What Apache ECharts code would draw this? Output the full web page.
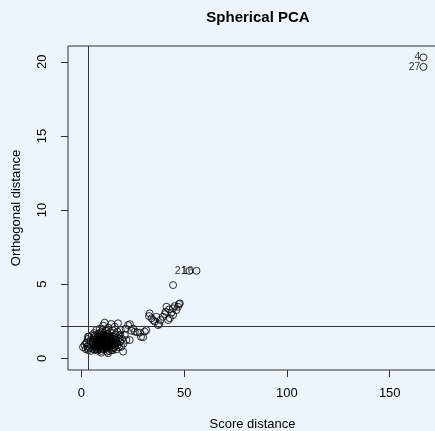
<!DOCTYPE html>
<html>
<head>
<meta charset="utf-8">
<script src="https://cdn.jsdelivr.net/npm/echarts@6/dist/echarts.min.js"></script>
<style>
  html, body { margin: 0; padding: 0; background: #EBF5FB; }
  #chart { width: 435px; height: 431px; }
</style>
</head>
<body>
<div id="chart"></div>
<script>
// Diagnostic plot of a spherical PCA: score distance vs orthogonal distance.

// Regular observations near the origin: [score distance, orthogonal distance]
const coreCluster = [
  [0.8,0.75],[1.5,0.9],[2.1,0.62],[2.4,1.05],[2.9,0.8],[3.1,1.3],[3.3,0.55],[3.6,1.45],[3.9,0.95],[4.2,0.7],
  [4.4,1.2],[4.7,0.5],[4.9,1.55],[5.1,0.88],[5.3,1.1],[5.6,0.65],[5.8,1.35],[6.0,0.95],[6.2,1.7],[6.4,0.58],
  [6.5,1.25],[6.7,0.8],[6.9,1.05],[7.0,1.5],[7.2,0.7],[7.3,1.9],[7.5,0.95],[7.6,1.2],[7.8,0.52],[7.9,1.4],
  [8.0,0.85],[8.2,1.65],[8.3,1.0],[8.5,0.62],[8.6,1.3],[8.8,0.9],[8.9,1.15],[9.0,2.0],[9.1,0.75],[9.3,1.45],
  [9.4,1.05],[9.6,0.5],[9.7,1.25],[9.8,0.88],[10.0,1.75],[10.1,1.1],[10.2,0.68],[10.4,1.35],[10.5,0.95],[10.6,2.2],
  [10.8,1.2],[10.9,0.8],[11.0,1.55],[11.2,1.0],[11.3,2.4],[11.4,0.6],[11.5,1.3],[11.7,0.9],[11.8,1.85],[11.9,1.1],
  [12.0,0.72],[12.2,1.45],[12.3,1.0],[12.5,0.45],[12.6,1.25],[12.7,1.65],[12.9,0.85],[13.0,0.34],[13.1,1.1],[13.2,2.05],
  [13.4,1.4],[13.5,0.65],[13.7,0.95],[13.8,1.2],[14.0,1.75],[14.1,0.8],[14.3,1.5],[14.4,1.05],[14.6,2.31],[14.7,0.55],
  [14.9,1.3],[15.0,0.9],[15.2,1.9],[15.4,1.1],[15.6,0.7],[15.8,1.45],[16.0,1.0],[16.2,2.13],[16.3,0.85],[16.5,1.6],
  [16.8,1.25],[17.0,0.6],[17.2,1.05],[17.5,1.8],[17.7,0.9],[17.8,2.36],[18.0,1.35],[18.3,0.75],[18.5,1.55],[18.8,1.1],
  [19.2,1.9],[19.5,0.78],[19.8,1.3],[20.3,0.45],[20.5,1.0],[21.1,1.57],[21.5,2.0],[21.9,1.23],[22.7,2.24],[23.5,1.23],
  [6.5,1.57],[3.2,1.46],[2.4,1.0],[3.2,0.67],[9.7,0.38],[7.4,1.1],[8.1,1.2],[8.7,0.7],[9.2,0.95],[9.9,1.4],
  [10.3,0.85],[10.7,1.05],[11.1,1.25],[11.6,0.75],[12.1,1.15],[12.4,0.9],[12.8,1.3],[13.3,0.8],[13.6,1.05],[14.2,0.95],
  [14.5,1.2],[15.1,1.05],[15.5,1.3],[16.1,0.75],[16.6,1.05],[6.8,1.3],[7.7,0.8],[8.4,1.45],[9.5,1.15],[10.9,1.45],
  [11.9,1.55],[5.5,1.05],[6.3,0.85],[13.9,1.45],[12.5,1.85],[10.2,1.9],[8.8,1.7],[7.1,0.6],[8.5,1.05],[9.9,0.62],
  [10.6,1.6],[11.4,0.82],[12.9,1.5],[13.5,0.5],[15.3,0.55],[17.4,1.4],[18.9,1.6]
];

// Observations trailing away from the main group
const trailPoints = [
  [23.6,2.3],[24.3,1.86],[25.2,2.0],[26.0,1.8],[27.2,1.75],[28.4,1.73],[29.0,1.45],[30.0,1.42],[30.8,1.8],[31.6,1.9]
];

// Second group with larger score distances
const upperCluster = [
  [33.2,3.03],[32.9,2.85],[34.1,2.7],[34.9,2.58],[35.7,2.47],[37.3,2.24],[37.8,2.31],[39.7,2.8],[40.6,2.98],[41.4,3.48],
  [42.7,3.3],[43.8,3.07],[44.6,3.37],[45.4,3.52],[47.5,3.66],[46.2,3.25],[43.0,2.7],[42.2,2.58],[44.6,2.92],[36.5,2.8],
  [38.5,2.58],[41.0,3.14],[47.0,3.48],[47.9,3.7],[44.6,4.94]
];

// Flagged observations with their ids
const flaggedIds   = ['4', '27', '21', '16'];
const flaggedScore = [166.4, 166.4, 52.6, 56.0];
const flaggedOrth  = [20.3, 19.66, 5.9, 5.9];

// Cutoff values
const cutoffScore = 3.55;
const cutoffOrth = 2.18;

// Axis ticks
const xTicks = [0, 50, 100, 150];
const yTicks = [0, 5, 10, 15, 20];

const FONT = '"Liberation Sans", Arial, Helvetica, sans-serif';
const axisText = { fontFamily: FONT, fontSize: 13, color: '#000' };

const ring = {
  color: 'transparent',
  borderColor: '#000',
  borderWidth: 1
};

const chart = echarts.init(document.getElementById('chart'), null, { renderer: 'canvas' });

chart.setOption({
  backgroundColor: '#EBF5FB',
  animation: false,
  title: {
    text: 'Spherical PCA',
    left: 253,
    top: 5,
    textAlign: 'center',
    textStyle: { fontFamily: FONT, fontSize: 15, fontWeight: 'bold', color: '#000' }
  },
  grid: {
    left: 68, top: 46, width: 369, height: 324,
    show: true, borderColor: '#333', borderWidth: 1, backgroundColor: 'transparent',
    containLabel: false, outerBoundsMode: 'none'
  },
  xAxis: {
    type: 'value',
    min: -6.52, max: 173,
    name: 'Score distance',
    nameLocation: 'middle',
    nameGap: 48,
    nameTextStyle: axisText,
    axisLine: { show: false, onZero: false },
    axisTick: { show: true, inside: false, length: 7, customValues: xTicks, lineStyle: { color: '#333', width: 1 } },
    axisLabel: Object.assign({ customValues: xTicks, margin: 17 }, axisText),
    splitLine: { show: false }
  },
  yAxis: {
    type: 'value',
    min: -0.79, max: 21.07,
    name: 'Orthogonal distance',
    nameLocation: 'middle',
    nameGap: 45,
    nameTextStyle: axisText,
    axisLine: { show: false, onZero: false },
    axisTick: { show: true, inside: false, length: 7, customValues: [0, cutoffOrth, 5, 10, 15, 20], lineStyle: { color: '#333', width: 1 } },
    axisLabel: Object.assign({ customValues: yTicks, margin: 19, rotate: 90 }, axisText),
    splitLine: { show: false }
  },
  series: [
    {
      type: 'scatter',
      symbol: 'circle',
      symbolSize: 7,
      itemStyle: ring,
      data: coreCluster.concat(trailPoints, upperCluster),
      markLine: {
        silent: true,
        symbol: 'none',
        label: { show: false },
        lineStyle: { color: '#333', width: 1, type: 'solid' },
        data: [{ xAxis: cutoffScore }, { yAxis: cutoffOrth }]
      }
    },
    {
      type: 'scatter',
      symbol: 'circle',
      symbolSize: 7,
      itemStyle: ring,
      data: flaggedIds.map((id, i) => [flaggedScore[i], flaggedOrth[i], id]),
      label: {
        show: true,
        position: 'left',
        distance: -1,
        formatter: p => p.value[2],
        fontFamily: FONT,
        fontSize: 10.5,
        color: '#000'
      }
    }
  ]
});
</script>
</body>
</html>
